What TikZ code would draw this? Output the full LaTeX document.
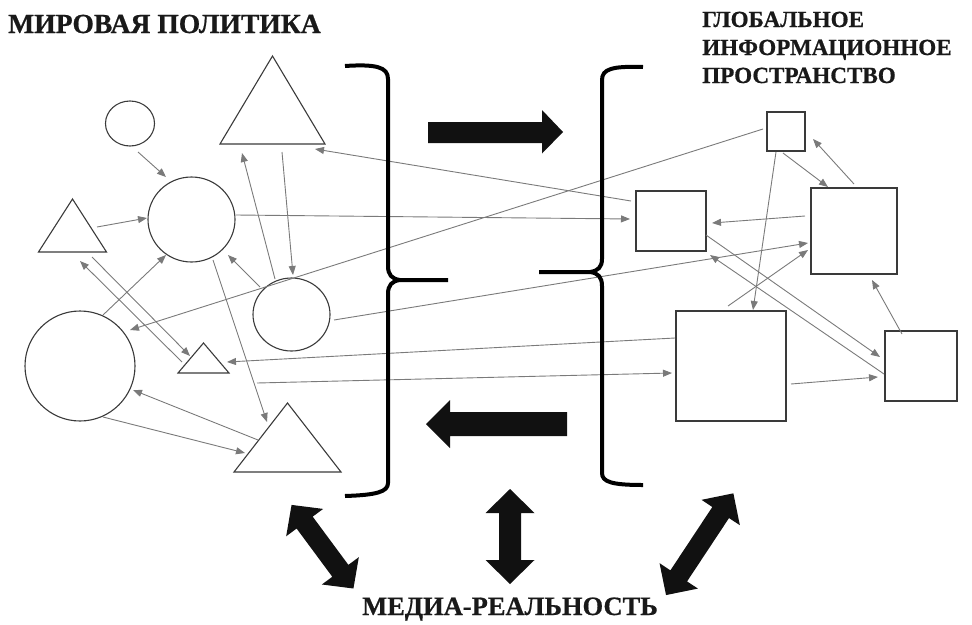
\documentclass[tikz,border=0pt]{standalone}
\usepackage{fontspec}
\setmainfont{Liberation Serif}
\newfontfamily\ttlfont[FakeBold=0.7]{Liberation Serif}
\usetikzlibrary{shapes.geometric,arrows.meta}
\definecolor{shapecol}{HTML}{3A3A3A}
\definecolor{conncol}{HTML}{7A7A7A}
\definecolor{arrowcol}{HTML}{111111}
\newcommand{\dblarrow}[7]{% cx, cy, angle, length, head length, head half width, shaft half width
  \begin{scope}[shift={(#1,#2)}, rotate=#3]
    \fill[arrowcol] (-#4/2,0) -- (-#4/2+#5,#6) -- (-#4/2+#5,#7) -- (#4/2-#5,#7) -- (#4/2-#5,#6)
      -- (#4/2,0) -- (#4/2-#5,-#6) -- (#4/2-#5,-#7) -- (-#4/2+#5,-#7) -- (-#4/2+#5,-#6) -- cycle;
  \end{scope}}
\begin{document}
\begin{tikzpicture}[x=1pt,y=-1pt,
  shp/.style={draw=shapecol, line width=1.1pt, inner sep=0pt, outer sep=0pt},
  circ/.style={shp, ellipse},
  sq/.style={shp, rectangle},
  tri/.style={shp, isosceles triangle, isosceles triangle stretches, rotate=90, anchor=apex},
  conn/.style={draw=conncol, line width=0.9pt, -{Triangle[length=9pt,width=7pt]}},
  brace/.style={line width=4pt, black},
  fat/.style={fill=arrowcol},
  ttl/.style={inner sep=0pt, text=black!90, font=\ttlfont\bfseries\fontsize{#1}{#1}\selectfont}]
\useasboundingbox (0,0) rectangle (972,624);

% ---------- titles
\node[ttl=27.6, anchor=base west] (mp) at (8,33) {МИРОВАЯ ПОЛИТИКА};
\node[ttl=23.1, anchor=base west] (g1) at (702,27) {ГЛОБАЛЬНОЕ};
\node[ttl=23.1, anchor=base west] (g2) at (702,55) {ИНФОРМАЦИОННОЕ};
\node[ttl=23.1, anchor=base west] (g3) at (702,83) {ПРОСТРАНСТВО};
\node[ttl=26.5, anchor=base] (mr) at (510,615) {МЕДИА-РЕАЛЬНОСТЬ};

% ---------- left shapes
\node[circ, minimum width=49pt, minimum height=45pt] (c1) at (130,123.5) {};
\node[circ, minimum width=87pt, minimum height=85pt] (c2) at (191.5,219.5) {};
\node[circ, minimum width=110pt, minimum height=110pt] (c3) at (80,366) {};
\node[circ, minimum width=77pt, minimum height=73pt] (c4) at (291.5,314.5) {};
\node[tri, minimum height=88pt, minimum width=105pt] (t1) at (272.5,56) {};
\node[tri, minimum height=53pt, minimum width=68pt] (t2) at (72.5,199) {};
\node[tri, minimum height=30pt, minimum width=51pt] (t3) at (203.5,343) {};
\node[tri, minimum height=69pt, minimum width=107pt] (t4) at (287.5,403) {};

% ---------- right shapes
\node[sq, minimum width=38pt, minimum height=39pt] (s1) at (786,131.5) {};
\node[sq, minimum width=70pt, minimum height=60pt] (s2) at (671,221) {};
\node[sq, minimum width=86pt, minimum height=86pt] (s3) at (854,231) {};
\node[sq, minimum width=110pt, minimum height=110pt] (s4) at (731,366) {};
\node[sq, minimum width=72pt, minimum height=70pt] (s5) at (921,366) {};

% ---------- connector end points
\coordinate (a1s) at (138,152);  \coordinate (a1e) at (166,177);
\coordinate (a2s) at (97,227);   \coordinate (a2e) at (147,218);
\coordinate (a3s) at (236,215);  \coordinate (a3e) at (630,219);
\coordinate (a4s) at (631,201);  \coordinate (a4e) at (315,149);
\coordinate (a5s) at (763,129);  \coordinate (a5e) at (130,330);
\coordinate (a6s) at (334,320);  \coordinate (a6e) at (808,243);
\coordinate (a7s) at (675,338);  \coordinate (a7e) at (227,362);
\coordinate (a8s) at (257,383);  \coordinate (a8e) at (672,373);
\coordinate (a9s) at (213,260);  \coordinate (a9e) at (267,422);
\coordinate (a10s) at (282,152); \coordinate (a10e) at (293,275);
\coordinate (a11s) at (275,279); \coordinate (a11e) at (242,153);
\coordinate (a12s) at (260,287); \coordinate (a12e) at (228,255);
\coordinate (a13s) at (103,315); \coordinate (a13e) at (166,255);
\coordinate (a14s) at (92,257);  \coordinate (a14e) at (190,356);
\coordinate (a15s) at (182,362); \coordinate (a15e) at (80,261);
\coordinate (a16s) at (258,440); \coordinate (a16e) at (133,390);
\coordinate (a17s) at (103,417); \coordinate (a17e) at (245,453);
\coordinate (b1s) at (783,153);  \coordinate (b1e) at (828,187);
\coordinate (b2s) at (854,184);  \coordinate (b2e) at (813,139);
\coordinate (b3s) at (805,216);  \coordinate (b3e) at (712,223);
\coordinate (b4s) at (776,152);  \coordinate (b4e) at (753,310);
\coordinate (b5s) at (728,306);  \coordinate (b5e) at (808,250);
\coordinate (b6s) at (706,235);  \coordinate (b6e) at (880,357);
\coordinate (b7s) at (884,374);  \coordinate (b7e) at (710,255);
\coordinate (b8s) at (791,384);  \coordinate (b8e) at (878,377);
\coordinate (b9s) at (902,334);  \coordinate (b9e) at (872,280);

% ---------- connectors
\foreach \n in {a1,a2,a3,a4,a5,a6,a7,a8,a9,a10,a11,a12,a13,a14,a15,a16,a17,b1,b2,b3,b4,b5,b6,b7,b8,b9}
  \draw[conn] (\n s) -- (\n e);

% ---------- braces
\draw[brace] (345,66) .. controls (376,64) and (388,67) .. (388,79) -- (388,266)
  .. controls (388,275) and (392,279) .. (400,280) -- (448,280);
\draw[brace] (400,280) .. controls (392,281) and (388,285) .. (388,294) -- (388,483)
  .. controls (388,492) and (376,495) .. (345,496);
\draw[brace] (643,67) .. controls (612,66) and (602,69) .. (602,80) -- (602,259)
  .. controls (602,267) and (598,271) .. (590,272) -- (539,272);
\draw[brace] (590,272) .. controls (598,273) and (602,277) .. (602,286) -- (602,473)
  .. controls (602,482) and (612,485) .. (643,485);

% ---------- fat arrows
\fill[fat] (428,122) -- (542,122) -- (542,110) -- (563,132) -- (542,153.5) -- (542,143) -- (428,143) -- cycle;
\fill[fat] (567,412) -- (450,412) -- (450,400) -- (426,424) -- (450,448) -- (450,436) -- (567,436) -- cycle;

\dblarrow{322.5}{546.7}{-53.5}{104}{22}{23}{10}
\dblarrow{510}{536.5}{90}{95}{24}{24.5}{11}
\dblarrow{699.7}{544.2}{56.5}{122}{23}{23}{10}
\end{tikzpicture}
\end{document}
